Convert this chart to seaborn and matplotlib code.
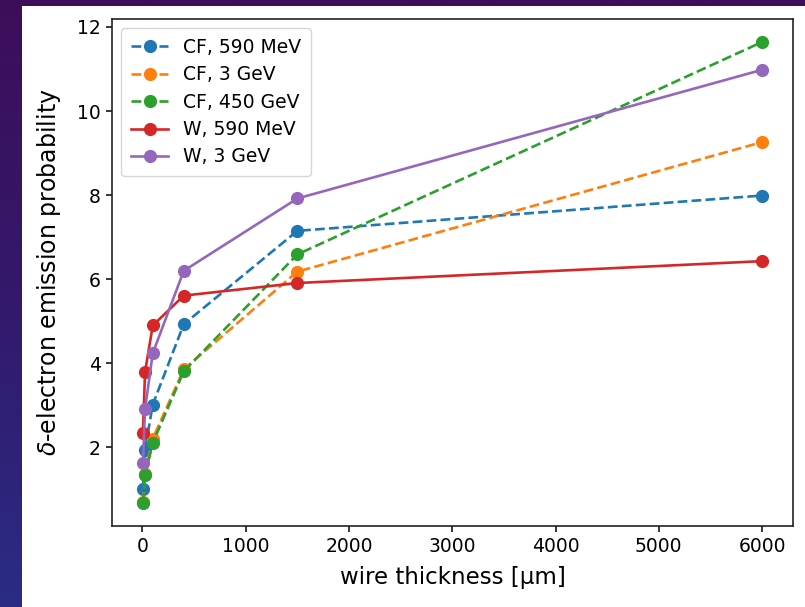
import numpy as np
import pandas as pd
import matplotlib
matplotlib.use("Agg")
import matplotlib.pyplot as plt
import seaborn as sns
from matplotlib.colors import LinearSegmentedColormap
from matplotlib.patches import Rectangle

# wire thickness in micrometres
thickness = [5, 25, 100, 400, 1500, 6000]

# delta-electron emission probability per configuration
cf_590mev = [1.02, 1.95, 3.02, 4.93, 7.15, 7.99]
cf_3gev = [0.70, 1.36, 2.21, 3.86, 6.18, 9.26]
cf_450gev = [0.68, 1.34, 2.11, 3.81, 6.59, 11.64]
w_590mev = [2.35, 3.79, 4.90, 5.61, 5.91, 6.43]
w_3gev = [1.64, 2.91, 4.24, 6.20, 7.92, 10.98]

series_labels = ["CF, 590 MeV", "CF, 3 GeV", "CF, 450 GeV", "W, 590 MeV", "W, 3 GeV"]
series_values = [cf_590mev, cf_3gev, cf_450gev, w_590mev, w_3gev]
series_colors = ["#1f77b4", "#ff7f0e", "#2ca02c", "#d62728", "#9467bd"]
series_styles = ["--", "--", "--", "-", "-"]

fig = plt.figure(figsize=(8.05, 6.07), dpi=100)

# slide backdrop: dark gradient strip on the left and top edge
bg = fig.add_axes([0, 0, 1, 1], zorder=-10)
bg.set_axis_off()
grad = np.linspace(0, 1, 256).reshape(-1, 1)
cmap = LinearSegmentedColormap.from_list("slide", ["#3d0e5a", "#33196c", "#2a2c84"])
bg.imshow(grad, aspect="auto", cmap=cmap, extent=[0, 1, 0, 1], origin="upper")
bg.add_patch(Rectangle((22 / 805, 0), 1 - 22 / 805, 1 - 6 / 607,
                       transform=bg.transAxes, facecolor="white", edgecolor="none"))
bg.set_xlim(0, 1)
bg.set_ylim(0, 1)

ax = fig.add_axes([112 / 805, 1 - 526 / 607, (793 - 112) / 805, (526 - 19) / 607])

for label, vals, color, ls in zip(series_labels, series_values, series_colors, series_styles):
    df = pd.DataFrame({"thickness": thickness, "prob": vals})
    sns.lineplot(data=df, x="thickness", y="prob", ax=ax, color=color,
                 linestyle=ls, marker="o", markersize=9.5, markeredgewidth=0,
                 linewidth=1.9, label=label, sort=False)

ax.set_xlabel("wire thickness [µm]", fontsize=16.5, labelpad=7)
ax.set_ylabel(r"$\delta$-electron emission probability", fontsize=17, labelpad=10)
ax.tick_params(labelsize=13.5, length=4.5, width=1.1)
for s in ax.spines.values():
    s.set_linewidth(1.2)
    s.set_color("#222222")

ax.legend(loc="upper left", fontsize=13.5, handlelength=2.0, borderpad=0.5,
          labelspacing=0.45, framealpha=0.8, markerscale=1.0)

fig.savefig("out.png", dpi=100)
